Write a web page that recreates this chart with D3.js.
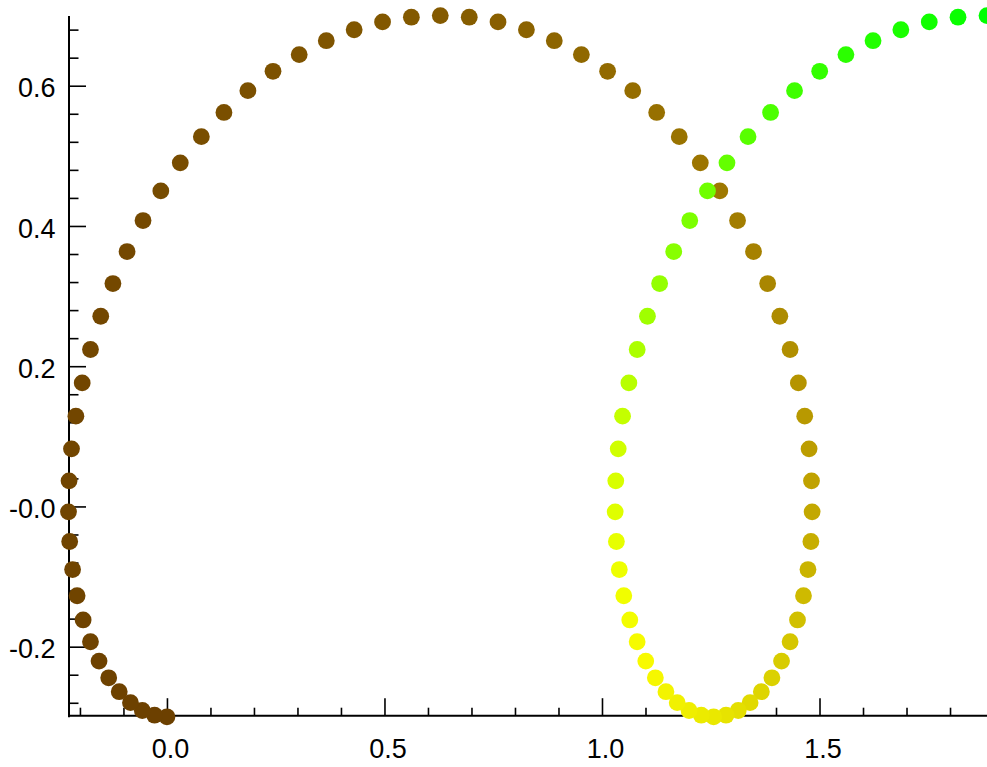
<!DOCTYPE html>
<html>
<head>
<meta charset="utf-8">
<script src="https://cdn.jsdelivr.net/npm/d3@7"></script>
<style>
  body { margin: 0; background: #fff; }
  svg { display: block; font-family: "Liberation Sans", Arial, sans-serif; }
</style>
</head>
<body>
<script>
// point positions (in order along the curve)
const xValues = [
  0, -0.0285, -0.0566, -0.0838, -0.1097, -0.1339, -0.1561, -0.1758, -0.1927, -0.2065,
  -0.2169, -0.2236, -0.2263, -0.2250, -0.2194, -0.2093, -0.1948, -0.1758, -0.1522, -0.1242,
  -0.0917, -0.0550, -0.0141, 0.0306, 0.0791, 0.1310, 0.1860, 0.2438, 0.3040, 0.3663,
  0.4303, 0.4956, 0.5618, 0.6283, 0.6949, 0.7610, 0.8263, 0.8903, 0.9526, 1.0129,
  1.0707, 1.1257, 1.1776, 1.2260, 1.2708, 1.3116, 1.3483, 1.3808, 1.4088, 1.4324,
  1.4514, 1.4660, 1.4760, 1.4816, 1.4830, 1.4802, 1.4735, 1.4632, 1.4494, 1.4324,
  1.4127, 1.3906, 1.3663, 1.3404, 1.3132, 1.2851, 1.2566, 1.2282, 1.2001, 1.1729,
  1.1470, 1.1227, 1.1006, 1.0808, 1.0639, 1.0501, 1.0398, 1.0331, 1.0303, 1.0317,
  1.0373, 1.0473, 1.0618, 1.0809, 1.1045, 1.1325, 1.1649, 1.2017, 1.2425, 1.2873,
  1.3357, 1.3876, 1.4426, 1.5004, 1.5607, 1.6230, 1.6870, 1.7523, 1.8184, 1.8850
];
const yValues = [
  -0.3, -0.2977, -0.2910, -0.2798, -0.2642, -0.2444, -0.2206, -0.1930, -0.1619, -0.1274,
  -0.0900, -0.0500, -0.0077, 0.0365, 0.0821, 0.1288, 0.1762, 0.2238, 0.2712, 0.3179,
  0.3635, 0.4077, 0.4500, 0.4900, 0.5274, 0.5619, 0.5930, 0.6206, 0.6444, 0.6642,
  0.6798, 0.6910, 0.6977, 0.7000, 0.6977, 0.6910, 0.6798, 0.6642, 0.6444, 0.6206,
  0.5930, 0.5619, 0.5274, 0.4900, 0.4500, 0.4077, 0.3635, 0.3179, 0.2712, 0.2238,
  0.1762, 0.1288, 0.0821, 0.0365, -0.0077, -0.0500, -0.0900, -0.1274, -0.1619, -0.1930,
  -0.2206, -0.2444, -0.2642, -0.2798, -0.2910, -0.2977, -0.3, -0.2977, -0.2910, -0.2798,
  -0.2642, -0.2444, -0.2206, -0.1930, -0.1619, -0.1274, -0.0900, -0.0500, -0.0077, 0.0365,
  0.0821, 0.1288, 0.1762, 0.2238, 0.2712, 0.3179, 0.3635, 0.4077, 0.4500, 0.4900,
  0.5274, 0.5619, 0.5930, 0.6206, 0.6444, 0.6642, 0.6798, 0.6910, 0.6977, 0.7000
];

// ticks
const xMajorTicks = [0, 0.5, 1.0, 1.5];
const xTickLabels = ["0.0", "0.5", "1.0", "1.5"];
const xMinorTicks = [-0.2, -0.1, 0.1, 0.2, 0.3, 0.4, 0.6, 0.7, 0.8, 0.9, 1.1, 1.2, 1.3, 1.4, 1.6, 1.7, 1.8];
const yMajorTicks = [-0.2, 0, 0.2, 0.4, 0.6];
const yTickLabels = ["-0.2", "-0.0", "0.2", "0.4", "0.6"];
const yMinorTicks = [-0.28, -0.24, -0.16, -0.12, -0.08, -0.04, 0.04, 0.08, 0.12, 0.16,
  0.24, 0.28, 0.32, 0.36, 0.44, 0.48, 0.52, 0.56, 0.64, 0.68];

let width = 987;
let height = 767;

const points = xValues.map((x, i) => ({x: x, y: yValues[i], i: i}));

const svg = d3.select("body")
    .append("svg")
    .attr("width", width)
    .attr("height", height);

// scales (domain is the data extent, no padding)
let xScale = d3.scaleLinear()
    .domain(d3.extent(xValues))
    .range([68.5, 987]);

let yScale = d3.scaleLinear()
    .domain(d3.extent(yValues))
    .range([716.8, 15.6]);

// brown -> yellow -> green along the curve
const colorScale = d3.scaleLinear()
    .domain([0, 20, 33, 44, 53, 60, 66, 72, 76, 80, 88, 93, 99])
    .range(["#6c4000", "#744800", "#845a00", "#9e7800", "#c0a200", "#d8cc00", "#eae800",
            "#f8fa00", "#eeff00", "#d0ff00", "#70ff00", "#33ff00", "#00ff00"]);

// axes
const yAxis = svg.append("g")
    .attr("transform", "translate(68.5,0)")
    .call(d3.axisLeft(yScale)
        .tickValues(yMajorTicks)
        .tickFormat((d, i) => yTickLabels[i])
        .tickSizeInner(-17.5)
        .tickSizeOuter(0)
        .tickPadding(13));

svg.append("g")
    .attr("transform", "translate(68.5,0)")
    .call(d3.axisLeft(yScale)
        .tickValues(yMinorTicks)
        .tickFormat("")
        .tickSizeInner(-10)
        .tickSizeOuter(0))
    .call(g => g.select(".domain").remove());

const xAxis = svg.append("g")
    .attr("transform", "translate(0,715.2)")
    .call(d3.axisBottom(xScale)
        .tickValues(xMajorTicks)
        .tickFormat((d, i) => xTickLabels[i])
        .tickSizeInner(-17)
        .tickSizeOuter(0)
        .tickPadding(24));

svg.append("g")
    .attr("transform", "translate(0,715.2)")
    .call(d3.axisBottom(xScale)
        .tickValues(xMinorTicks)
        .tickFormat("")
        .tickSizeInner(-7.5)
        .tickSizeOuter(0))
    .call(g => g.select(".domain").remove());

svg.selectAll(".domain")
    .attr("stroke", "#000")
    .attr("stroke-width", 2);

svg.selectAll(".tick line")
    .attr("stroke", "#000")
    .attr("stroke-width", 1.6);

svg.selectAll(".tick text")
    .attr("fill", "#000")
    .style("font-size", "27px")
    .style("font-family", "'Liberation Sans', Arial, sans-serif");

yAxis.selectAll(".tick text").attr("dy", "0.41em");
xAxis.selectAll(".tick text").attr("dx", 3);

// plot points
svg.append("g")
    .selectAll("circle")
    .data(points)
    .enter()
    .append("circle")
    .attr("cx", d => xScale(d.x))
    .attr("cy", d => yScale(d.y))
    .attr("r", 8.4)
    .attr("fill", d => colorScale(d.i));
</script>
</body>
</html>
